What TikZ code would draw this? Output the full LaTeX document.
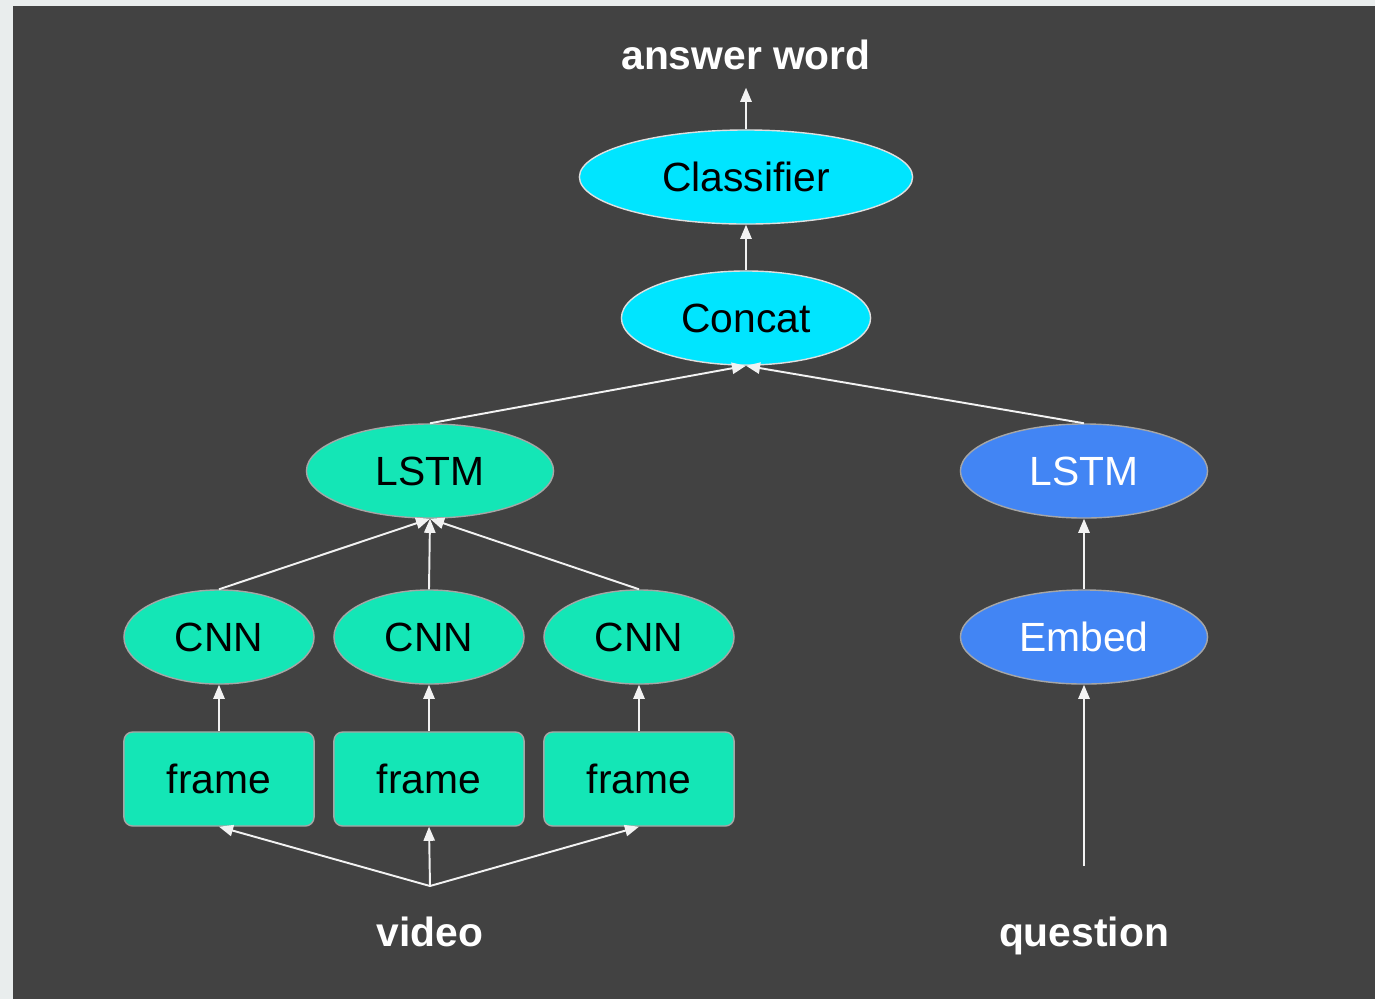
\documentclass[tikz,border=0pt]{standalone}
\usepackage{fontspec}
\setmainfont{Liberation Sans}
\usetikzlibrary{arrows.meta,shapes.geometric}
\definecolor{bgdark}{HTML}{424242}
\definecolor{bglight}{HTML}{E9EDED}
\definecolor{cyanfill}{HTML}{00E5FF}
\definecolor{tealfill}{HTML}{14E6B6}
\definecolor{bluefill}{HTML}{4285F4}
\definecolor{linkcol}{HTML}{F2F2F2}
\tikzset{
	link/.style={draw=linkcol, line width=0.55pt, -{Triangle[width=3.2pt,length=4pt,fill=linkcol]}}, % white arrows
	links/.style={every edge/.style={link}},
	every node/.style={font=\fontsize{11.6}{14}\selectfont},
	oval/.style={ellipse, inner sep=0pt, minimum height=0.94cm},
	cyannode/.style={oval, fill=cyanfill, draw=gray!25, thin, text=black},
	tealnode/.style={oval, fill=tealfill, draw=gray!70, thin, text=black, minimum width=1.9cm},
	bluenode/.style={oval, fill=bluefill, draw=gray!70, thin, text=white, minimum width=2.47cm},
	framenode/.style={rectangle, rounded corners=2.5pt, fill=tealfill, draw=gray!70, thin,
		minimum width=1.9cm, minimum height=0.94cm},
	txtnode/.style={anchor=base, text=white, font=\fontsize{11.6}{14}\selectfont\bfseries},
}
\begin{document}
\begin{tikzpicture}[x=0.01cm, y=0.01cm]
	% background
	\fill[bglight] (0,0) rectangle (1375,-999);
	\fill[bgdark] (13,-6) rectangle (1375,-999);

	\node[txtnode, inner sep=5pt] (ans) at (746,-69) {answer word};
	\node[cyannode, minimum width=3.33cm] (cls) at (746,-177) {Classifier};
	\node[cyannode, minimum width=2.49cm] (cat) at (746,-318) {Concat};

	\node[tealnode, minimum width=2.47cm] (lstmv) at (430,-471) {LSTM};
	\node[bluenode] (lstmq) at (1084,-471) {LSTM};

	\node[tealnode] (cnn1) at (219,-637) {CNN};
	\node[tealnode] (cnn2) at (429,-637) {CNN};
	\node[tealnode] (cnn3) at (639,-637) {CNN};
	\node[bluenode] (emb) at (1084,-637) {Embed};

	\node[framenode] (fr1) at (219,-779) {frame};
	\node[framenode] (fr2) at (429,-779) {frame};
	\node[framenode] (fr3) at (639,-779) {frame};

	\node[txtnode] (vid) at (430,-946) {video};
	\node[txtnode] (que) at (1084,-946) {question};
	\coordinate (vsrc) at (430,-886);
	\coordinate (qsrc) at (1084,-866);

	\path[links] (vsrc) edge (fr1.south)
			(vsrc) edge (fr2.south)
			(vsrc) edge (fr3.south)
			(fr1.north) edge (cnn1.south)
			(fr2.north) edge (cnn2.south)
			(fr3.north) edge (cnn3.south)
			(cnn1.north) edge (lstmv.south)
			(cnn2.north) edge (lstmv.south)
			(cnn3.north) edge (lstmv.south)
			(qsrc) edge (emb.south)
			(emb.north) edge (lstmq.south)
			(lstmv.north) edge (cat.south)
			(lstmq.north) edge (cat.south)
			(cat.north) edge (cls.south)
			(cls.north) edge (ans.south);
\end{tikzpicture}
\end{document}
